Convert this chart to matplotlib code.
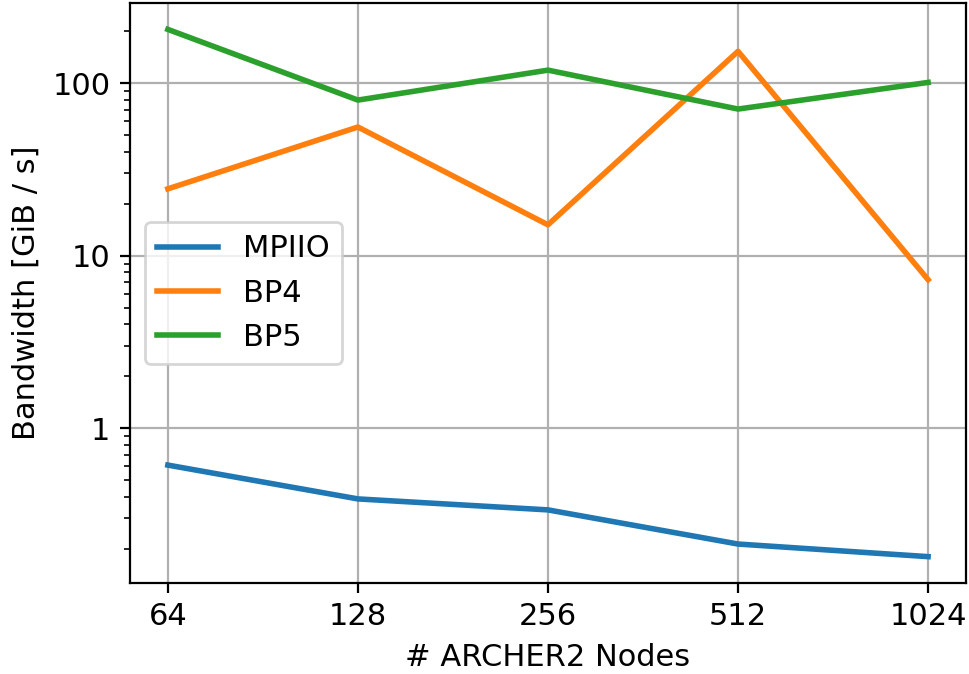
import matplotlib
matplotlib.use('Agg')
import matplotlib.pyplot as plt

nodes = ['64', '128', '256', '512', '1024']
mpiio = [0.611, 0.389, 0.336, 0.213, 0.180]
bp4 = [24.4, 55.7, 15.1, 153, 7.26]
bp5 = [205, 79.8, 119, 70.8, 101]

fig = plt.figure(figsize=(4.845, 3.37), dpi=200)
ax = fig.add_subplot(111)
fig.subplots_adjust(left=0.134, right=0.997, top=0.9955, bottom=0.135)

x = range(len(nodes))
ax.plot(x, mpiio, label='MPIIO', linewidth=2)
ax.plot(x, bp4, label='BP4', linewidth=2)
ax.plot(x, bp5, label='BP5', linewidth=2)

ax.set_yscale('log')
ax.set_yticks([1, 10, 100])
ax.set_yticklabels(['1', '10', '100'])
ax.set_xticks(list(x))
ax.set_xticklabels(nodes)
ax.tick_params(labelsize=11)
ax.grid(True)
ax.set_xlabel('# ARCHER2 Nodes', fontsize=11)
ax.set_ylabel('Bandwidth [GiB / s]', fontsize=11)
ax.legend(loc='center left', fontsize=11)

fig.savefig('out.png', dpi=200)
